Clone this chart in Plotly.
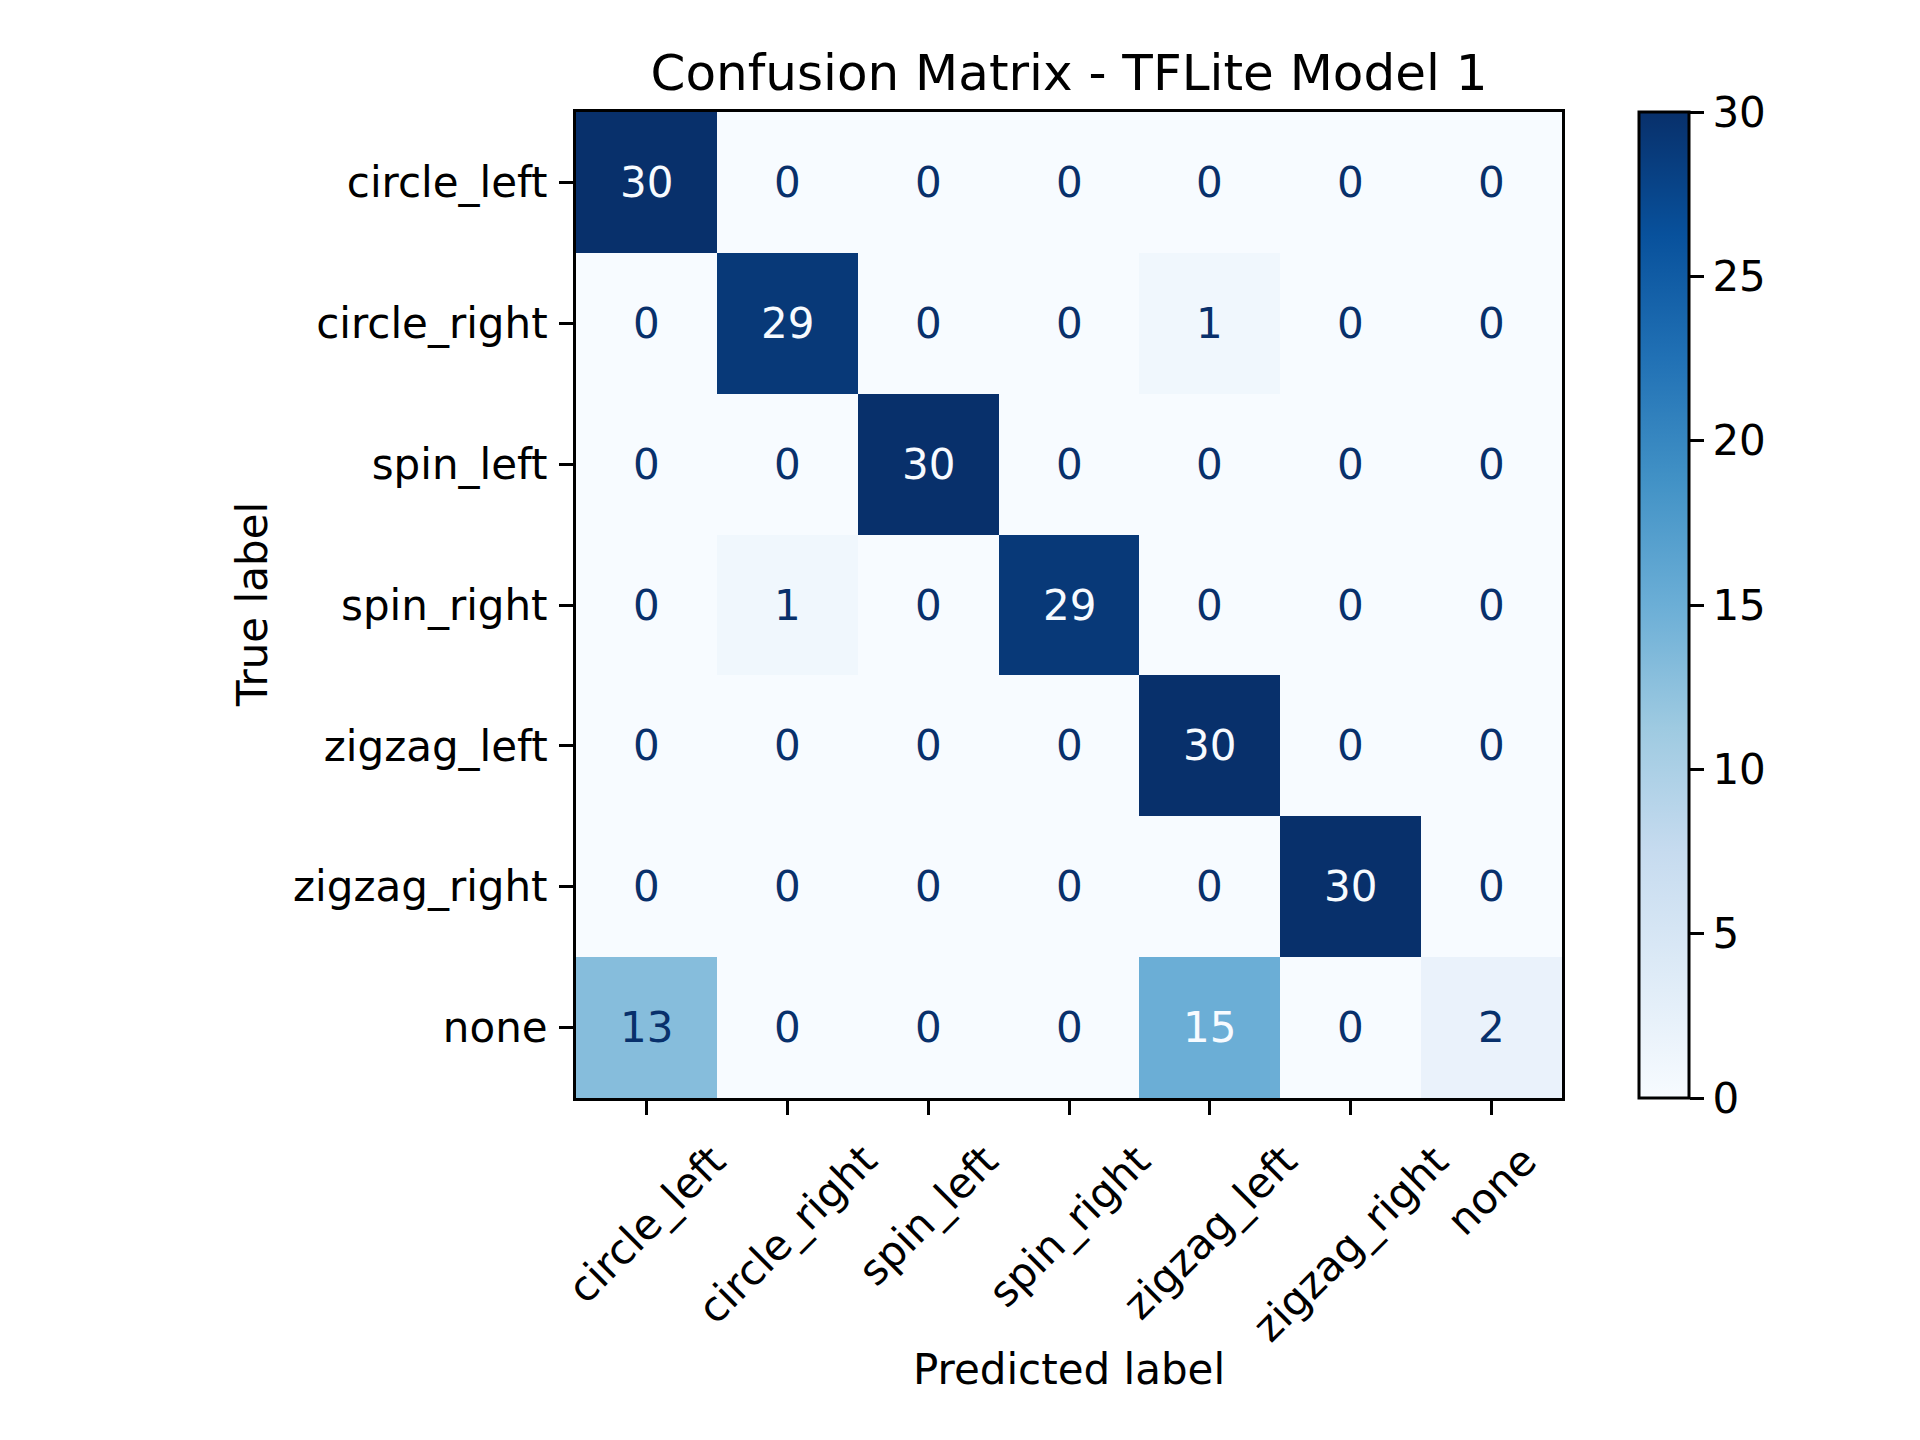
import plotly.graph_objects as go

# Rotulos das classes (linhas = verdadeiro, colunas = previsto)
classes = ['circle_left', 'circle_right', 'spin_left', 'spin_right',
           'zigzag_left', 'zigzag_right', 'none']

# Matriz de confusao
matriz = [
    [30, 0, 0, 0, 0, 0, 0],
    [0, 29, 0, 0, 1, 0, 0],
    [0, 0, 30, 0, 0, 0, 0],
    [0, 1, 0, 29, 0, 0, 0],
    [0, 0, 0, 0, 30, 0, 0],
    [0, 0, 0, 0, 0, 30, 0],
    [13, 0, 0, 0, 15, 0, 2],
]

cbar_ticks = [0, 5, 10, 15, 20, 25, 30]

# Paleta Blues (igual ao matplotlib)
blues = ['#f7fbff', '#deebf7', '#c6dbef', '#9ecae1', '#6baed6',
         '#4292c6', '#2171b5', '#08519c', '#08306b']
escala = [[i / (len(blues) - 1), c] for i, c in enumerate(blues)]

W, H = 1920, 1440
FONTE = 'DejaVu Sans'
OFF = 8  # margem do body da pagina

# posicoes em pixels medidas na figura original
x0, x1 = 576 - OFF, 1562 - OFF
y0, y1 = 112 - OFF, 1098 - OFF

fig = go.Figure()

fig.add_trace(go.Heatmap(
    z=matriz,
    x=classes,
    y=classes,
    colorscale=escala,
    zmin=0, zmax=30,
    hoverinfo='skip',
    colorbar=dict(
        x=(1639 - OFF) / W, xanchor='left', xpad=0, ypad=0,
        y=1 - y1 / H, yanchor='bottom',
        len=(y1 - y0) / H, lenmode='fraction',
        thickness=50, thicknessmode='pixels',
        outlinewidth=3, outlinecolor='black',
        tickvals=cbar_ticks,
        ticks='outside', ticklen=14, tickwidth=3, tickcolor='black',
        tickfont=dict(family=FONTE, size=42, color='black'),
    ),
))

# textos dentro das celulas
limiar = (max(max(l) for l in matriz) + min(min(l) for l in matriz)) / 2
anotacoes = []
for i, linha in enumerate(matriz):
    for j, v in enumerate(linha):
        cor = blues[0] if v >= limiar else blues[-1]
        anotacoes.append(dict(
            x=classes[j], y=classes[i], xref='x', yref='y',
            text=str(v), showarrow=False,
            font=dict(family=FONTE, size=42, color=cor),
        ))

# rotulos do eixo x rotacionados (centralizados no tick)
for c in classes:
    anotacoes.append(dict(
        x=c, xref='x', y=1 - (1133 - OFF) / H, yref='paper',
        text=c, showarrow=False, textangle=-45,
        xanchor='center', yanchor='top',
        font=dict(family=FONTE, size=42, color='black'),
    ))

anotacoes.append(dict(
    x=(x0 + x1) / 2 / W, y=1 - (1369 - OFF) / H, xref='paper', yref='paper',
    text='Predicted label', showarrow=False,
    xanchor='center', yanchor='middle',
    font=dict(family=FONTE, size=42, color='black'),
))
anotacoes.append(dict(
    x=(252 - OFF) / W, y=1 - (605 - OFF) / H, xref='paper', yref='paper',
    text='True label', showarrow=False, textangle=-90,
    xanchor='center', yanchor='middle',
    font=dict(family=FONTE, size=42, color='black'),
))

eixo = dict(
    showline=True, mirror=True, linewidth=3, linecolor='black',
    ticks='outside', ticklen=14, tickwidth=3, tickcolor='black',
    showgrid=False, zeroline=False,
    tickfont=dict(family=FONTE, size=42, color='black'),
)

fig.update_layout(
    width=W, height=H,
    margin=dict(l=0, r=0, t=0, b=0),
    paper_bgcolor='white', plot_bgcolor='white',
    title=dict(
        text='Confusion Matrix - TFLite Model 1',
        x=(x0 + x1) / 2 / W, xanchor='center',
        y=1 - (72 - OFF) / H, yanchor='middle',
        font=dict(family=FONTE, size=50, color='black'),
    ),
    xaxis=dict(eixo, domain=[x0 / W, x1 / W], showticklabels=False,
               range=[-0.5, len(classes) - 0.5], autorange=False),
    yaxis=dict(eixo, domain=[1 - y1 / H, 1 - y0 / H],
               range=[len(classes) - 0.5, -0.5], autorange=False,
               ticklabelstandoff=3),
    annotations=anotacoes,
    showlegend=False,
)

fig.write_html('out.html')
